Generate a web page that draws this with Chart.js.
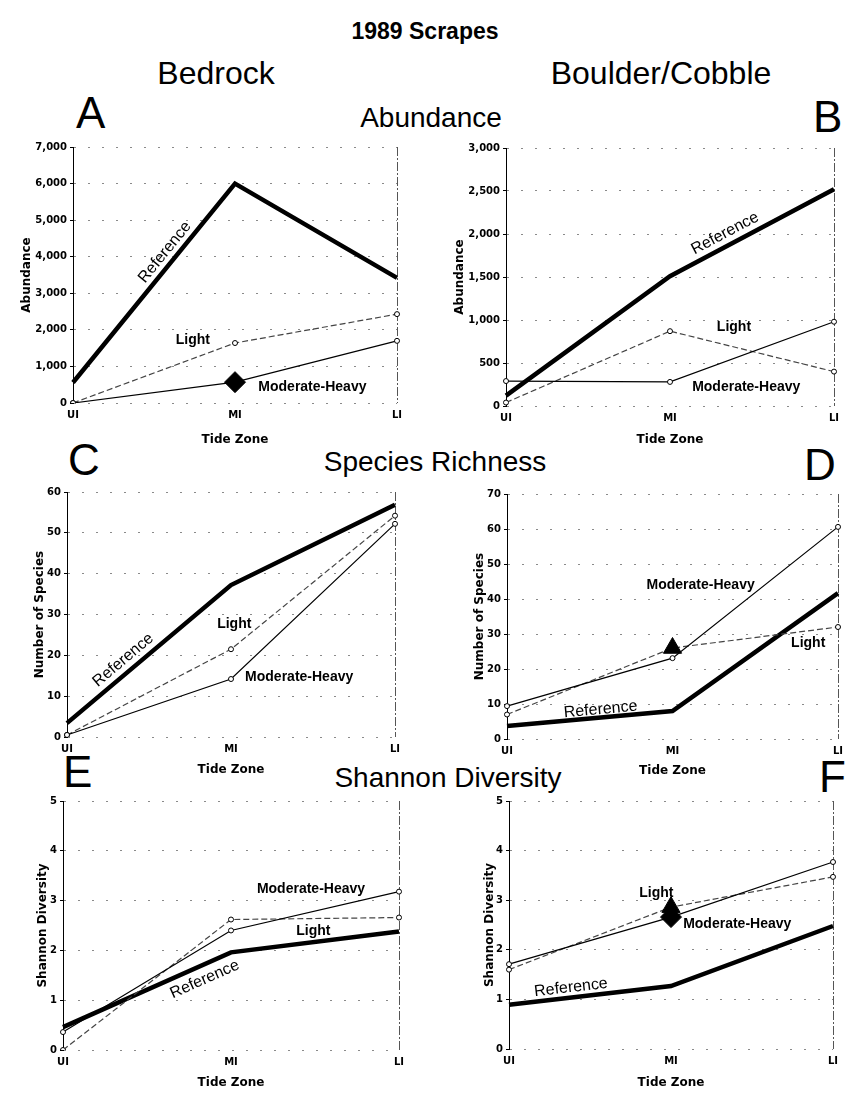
<!DOCTYPE html>
<html lang="en">
<head>
<meta charset="UTF-8">
<title>1989 Scrapes</title>
<script src="https://cdn.jsdelivr.net/npm/chart.js"></script>
<style>
  body { margin: 0; background: #fff; }
  #page { position: relative; width: 850px; height: 1096px; overflow: hidden; font-family: "Liberation Sans", Arial, sans-serif; color: #000; }
  .txt { position: absolute; white-space: nowrap; line-height: 1; }
  .c { transform: translateX(-50%); }
  canvas { position: absolute; }
</style>
</head>
<body>
<div id="page">
  <div class="txt c" style="left:425px; top:20px; font-size:23px; font-weight:bold;">1989 Scrapes</div>
  <div class="txt c" style="left:216px; top:57px; font-size:32px;">Bedrock</div>
  <div class="txt c" style="left:661px; top:57px; font-size:32px;">Boulder/Cobble</div>

  <div class="txt" style="left:76px; top:91px; font-size:44px;">A</div>
  <div class="txt c" style="left:431px; top:104px; font-size:28px;">Abundance</div>
  <div class="txt" style="left:813px; top:95px; font-size:44px;">B</div>

  <div class="txt" style="left:68px; top:438px; font-size:44px;">C</div>
  <div class="txt c" style="left:435px; top:448px; font-size:28px;">Species Richness</div>
  <div class="txt" style="left:804px; top:443px; font-size:44px;">D</div>

  <div class="txt" style="left:63px; top:750px; font-size:44px;">E</div>
  <div class="txt c" style="left:448px; top:764px; font-size:28px;">Shannon Diversity</div>
  <div class="txt" style="left:819px; top:755px; font-size:44px;">F</div>

  <canvas id="chartA"></canvas>
  <canvas id="chartB"></canvas>
  <canvas id="chartC"></canvas>
  <canvas id="chartD"></canvas>
  <canvas id="chartE"></canvas>
  <canvas id="chartF"></canvas>
</div>

<script>
  const zones = ['UI', 'MI', 'LI'];

  // abundance
  const abundBedRef = [560, 6000, 3420];
  const abundBedLight = [0, 1640, 2430];
  const abundBedMod = [0, 570, 1700];
  const abundBoulRef = [120, 1510, 2520];
  const abundBoulLight = [40, 870, 400];
  const abundBoulMod = [290, 280, 980];

  // species richness
  const richBedRef = [3.4, 37.2, 56.9];
  const richBedLight = [0.5, 21.5, 54.2];
  const richBedMod = [0.5, 14.2, 52.2];
  const richBoulRef = [3.7, 8, 41.7];
  const richBoulLight = [7, 26, 32];
  const richBoulMod = [9.4, 23.1, 60.6];

  // shannon diversity
  const divBedRef = [0.46, 1.96, 2.38];
  const divBedLight = [0, 2.62, 2.66];
  const divBedMod = [0.36, 2.4, 3.18];
  const divBoulRef = [0.89, 1.27, 2.48];
  const divBoulLight = [1.6, 2.86, 3.47];
  const divBoulMod = [1.71, 2.66, 3.77];

  const tickFont = { family: '"DejaVu Sans", sans-serif', weight: 'bold', size: 10 };
  const titleFont = { family: '"DejaVu Sans", sans-serif', weight: 'bold', size: 12 };
  const refFont = '16px "Liberation Sans", Arial, sans-serif';
  const tagFont = 'bold 14px "Liberation Sans", Arial, sans-serif';
  const PAD = 14;

  // line names written straight onto the plot
  const lineLabels = {
    id: 'lineLabels',
    afterDatasetsDraw(chart, args, opts) {
      const { ctx, scales: { x, y } } = chart;
      (opts.items || []).forEach(it => {
        ctx.save();
        ctx.fillStyle = '#000';
        ctx.font = it.font || tagFont;
        ctx.textBaseline = 'middle';
        ctx.textAlign = it.align || 'center';
        if (it.along) {
          const ds = chart.data.datasets.find(d => d.label === it.along);
          const i = Math.floor(it.t);
          const f = it.t - i;
          const x0 = x.getPixelForValue(i), y0 = y.getPixelForValue(ds.data[i]);
          const x1 = x.getPixelForValue(i + 1), y1 = y.getPixelForValue(ds.data[i + 1]);
          ctx.translate(x0 + (x1 - x0) * f, y0 + (y1 - y0) * f);
          ctx.rotate(Math.atan2(y1 - y0, x1 - x0));
          ctx.fillText(it.text, 0, it.offset);
        } else {
          ctx.fillText(it.text, x.getPixelForValue(it.at[0]), y.getPixelForValue(it.at[1]));
        }
        ctx.restore();
      });
    }
  };

  const panels = [
    { id: 'chartA', box: { l: 73, t: 147, r: 397, b: 403, yw: 57, xh: 48 },
      yMax: 7000, yStep: 1000, yTitle: 'Abundance',
      ref: abundBedRef, light: abundBedLight, mod: abundBedMod,
      bigLight: {}, bigMod: { 1: 'rectRot' },
      labels: [
        { text: 'Reference', along: 'Reference', t: 0.62, offset: -11, font: refFont },
        { text: 'Light', at: [0.74, 1720] },
        { text: 'Moderate-Heavy', at: [1.144, 437], align: 'left' }
      ] },
    { id: 'chartB', box: { l: 506, t: 148, r: 834, b: 406, yw: 57, xh: 45 },
      yMax: 3000, yStep: 500, yTitle: 'Abundance',
      ref: abundBoulRef, light: abundBoulLight, mod: abundBoulMod,
      bigLight: {}, bigMod: {},
      labels: [
        { text: 'Reference', along: 'Reference', t: 1.37, offset: -12, font: refFont },
        { text: 'Light', at: [1.39, 918] },
        { text: 'Moderate-Heavy', at: [1.135, 221], align: 'left' }
      ] },
    { id: 'chartC', box: { l: 67, t: 492, r: 395, b: 737, yw: 38, xh: 44 },
      yMax: 60, yStep: 10, yTitle: 'Number of Species',
      ref: richBedRef, light: richBedLight, mod: richBedMod,
      bigLight: {}, bigMod: {},
      labels: [
        { text: 'Reference', along: 'Reference', t: 0.39, offset: -12, font: refFont },
        { text: 'Light', at: [1.02, 27.7] },
        { text: 'Moderate-Heavy', at: [1.086, 14.7], align: 'left' }
      ] },
    { id: 'chartD', box: { l: 507, t: 494, r: 838, b: 739, yw: 38, xh: 43 },
      yMax: 70, yStep: 10, yTitle: 'Number of Species',
      ref: richBoulRef, light: richBoulLight, mod: richBoulMod,
      bigLight: { 1: 'triangle' }, bigMod: {},
      labels: [
        { text: 'Reference', along: 'Reference', t: 0.57, offset: -8, font: refFont },
        { text: 'Moderate-Heavy', at: [1.17, 44] },
        { text: 'Light', at: [1.82, 27.4] }
      ] },
    { id: 'chartE', box: { l: 63, t: 801, r: 399, b: 1050, yw: 31, xh: 44 },
      yMax: 5, yStep: 1, yTitle: 'Shannon Diversity',
      ref: divBedRef, light: divBedLight, mod: divBedMod,
      bigLight: {}, bigMod: {},
      labels: [
        { text: 'Reference', along: 'Reference', t: 0.81, offset: 14, font: refFont },
        { text: 'Moderate-Heavy', at: [1.476, 3.24] },
        { text: 'Light', at: [1.49, 2.38] }
      ] },
    { id: 'chartF', box: { l: 509, t: 801, r: 833, b: 1049, yw: 30, xh: 45 },
      yMax: 5, yStep: 1, yTitle: 'Shannon Diversity',
      ref: divBoulRef, light: divBoulLight, mod: divBoulMod,
      bigLight: { 1: 'triangle' }, bigMod: { 1: 'rectRot' },
      labels: [
        { text: 'Reference', along: 'Reference', t: 0.39, offset: -10, font: refFont },
        { text: 'Light', at: [0.91, 3.15] },
        { text: 'Moderate-Heavy', at: [1.075, 2.52], align: 'left' }
      ] }
  ];

  function thinSeries(label, data, color, dash, big) {
    return {
      label: label,
      data: data,
      borderColor: color,
      borderWidth: 1.2,
      borderDash: dash,
      tension: 0,
      pointStyle: c => big[c.dataIndex] || 'circle',
      pointRadius: c => big[c.dataIndex] ? 10.5 : 2.5,
      pointBackgroundColor: c => big[c.dataIndex] ? '#000' : '#fff',
      pointBorderColor: '#000',
      pointBorderWidth: 1
    };
  }

  panels.forEach(p => {
    const b = p.box;
    const cv = document.getElementById(p.id);
    cv.width = b.yw + (b.r - b.l) + PAD;
    cv.height = PAD + (b.b - b.t) + b.xh;
    cv.style.left = (b.l - b.yw) + 'px';
    cv.style.top = (b.t - PAD) + 'px';

    new Chart(cv, {
      type: 'line',
      data: {
        labels: zones,
        datasets: [
          thinSeries('Moderate-Heavy', p.mod, '#000', [], p.bigMod),
          thinSeries('Light', p.light, '#444', [6, 3], p.bigLight),
          { label: 'Reference', data: p.ref, borderColor: '#000', borderWidth: 4.5,
            pointRadius: 0, tension: 0, borderJoinStyle: 'miter' }
        ]
      },
      options: {
        responsive: false,
        animation: false,
        layout: { padding: { top: PAD, right: PAD, left: 0, bottom: 0 } },
        plugins: {
          legend: { display: false },
          tooltip: { enabled: false },
          lineLabels: { items: p.labels }
        },
        scales: {
          x: {
            afterFit: s => { s.height = b.xh; },
            border: { display: false, dash: [9, 2, 2, 2] },
            grid: {
              drawTicks: false,
              color: c => c.index === 2 ? '#555' : 'rgba(0,0,0,0)'
            },
            ticks: { color: '#000', font: tickFont, padding: 6 },
            title: { display: true, text: 'Tide Zone', color: '#000', font: titleFont,
                     padding: { top: 0, bottom: 4 } }
          },
          y: {
            min: 0,
            max: p.yMax,
            afterFit: s => { s.width = b.yw; },
            border: { display: true, color: '#000', width: 1, dash: [2, 12] },
            grid: { color: '#8a8a8a', tickColor: '#000', tickLength: 3 },
            ticks: {
              stepSize: p.yStep,
              color: '#000',
              font: tickFont,
              padding: 3,
              callback: v => v.toLocaleString('en-US')
            },
            title: { display: true, text: p.yTitle, color: '#000', font: titleFont,
                     padding: { top: 4, bottom: 0 } }
          }
        }
      },
      plugins: [lineLabels]
    });
  });
</script>
</body>
</html>
